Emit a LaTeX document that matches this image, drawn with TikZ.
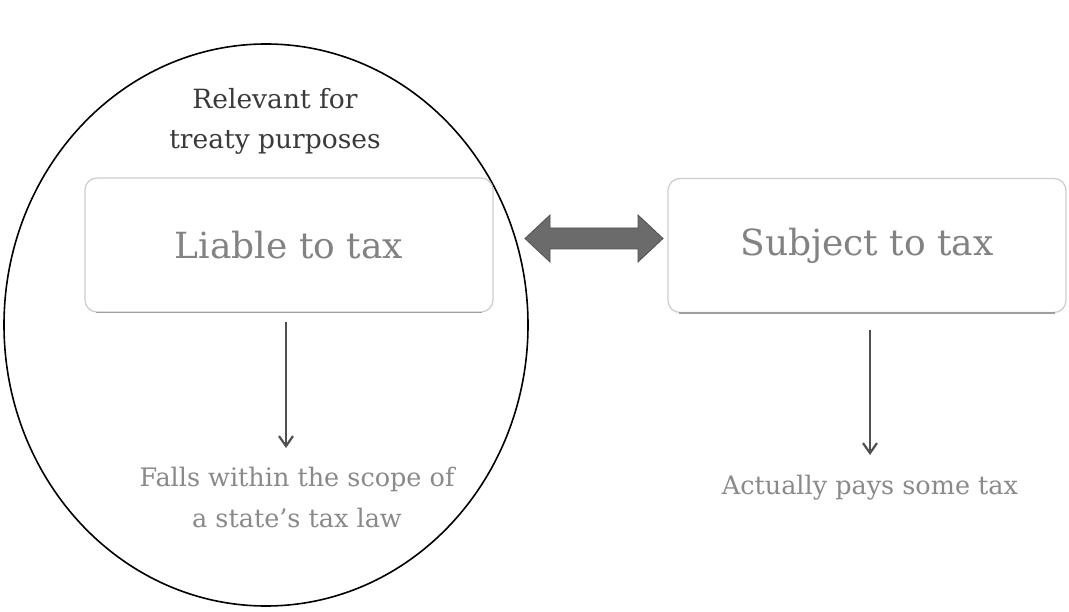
\documentclass[tikz,border=0pt]{standalone}
\usepackage{fontspec}
\setmainfont{DejaVu Serif}
\usetikzlibrary{shapes.geometric,calc,arrows.meta}
\definecolor{boxtext}{HTML}{828282}
\definecolor{labtext}{HTML}{8A8A8A}
\definecolor{toptext}{HTML}{3A3A3A}
\definecolor{boxline}{HTML}{CFCFCF}
\definecolor{fatfill}{HTML}{6B6B6B}
\definecolor{connline}{HTML}{505050}
\tikzset{
  boxnode/.style={draw=boxline, line width=1.3pt, rounded corners=12pt, minimum width=408pt, minimum height=134pt, inner sep=0pt, text=boxtext, font=\fontsize{36}{42}\selectfont},
  labnode/.style={text=labtext, align=center, font=\fontsize{25.5}{41}\selectfont, inner sep=0pt},
  conn/.style={draw=connline, line width=2.2pt, -{Straight Barb[length=10pt,width=14pt,line width=2.2pt]}},
  fat/.style={fill=fatfill, draw=connline, line width=0.8pt, line join=miter},
  shade line/.style={draw=black!38, line width=1.3pt},
}
\begin{document}
\begin{tikzpicture}[x=1pt,y=-1pt]
\useasboundingbox (0,0) rectangle (1069,612);
\fill[white] (0,0) rectangle (1069,612);
% ellipse
\node[draw=black, line width=1.6pt, ellipse, minimum width=524pt, minimum height=562pt, inner sep=0pt] (ell) at (266,325) {};
% top label
\node[text=toptext, align=center, font=\fontsize{26.5}{40}\selectfont, inner sep=0pt] (top) at (275,121) {Relevant for\\treaty purposes};
% boxes
\node[boxnode] (liable) at (289,245) {Liable to tax};
\node[boxnode, minimum width=398pt] (subject) at (867,245.5) {Subject to tax};
\draw[shade line] ([xshift=12pt]liable.south west) -- ([xshift=-12pt]liable.south east);
\draw[shade line] ([xshift=12pt]subject.south west) -- ([xshift=-12pt]subject.south east);
% labels
\node[labnode] (falls) at (297,497) {Falls within the scope of\\a state’s tax law};
\node[labnode] (pays) at (870,488) {Actually pays some tax};
% down arrows
\coordinate (a1s) at (286,322);
\coordinate (a1e) at (286,448);
\coordinate (a2s) at (870,330);
\coordinate (a2e) at (870,455);
\draw[conn] (a1s) -- (a1e);
\draw[conn] (a2s) -- (a2e);
% fat double arrow
\coordinate (fl) at (525,238.5);
\coordinate (fr) at (663,238.5);
\path[fat] (fl) -- ++(25,-23.5) -- ++(0,13) -- ($(fr)+(-25,-10.5)$) -- ++(0,-13) -- (fr) -- ++(-25,23.5) -- ++(0,-13) -- ($(fl)+(25,10.5)$) -- ++(0,13) -- cycle;
\end{tikzpicture}
\end{document}
